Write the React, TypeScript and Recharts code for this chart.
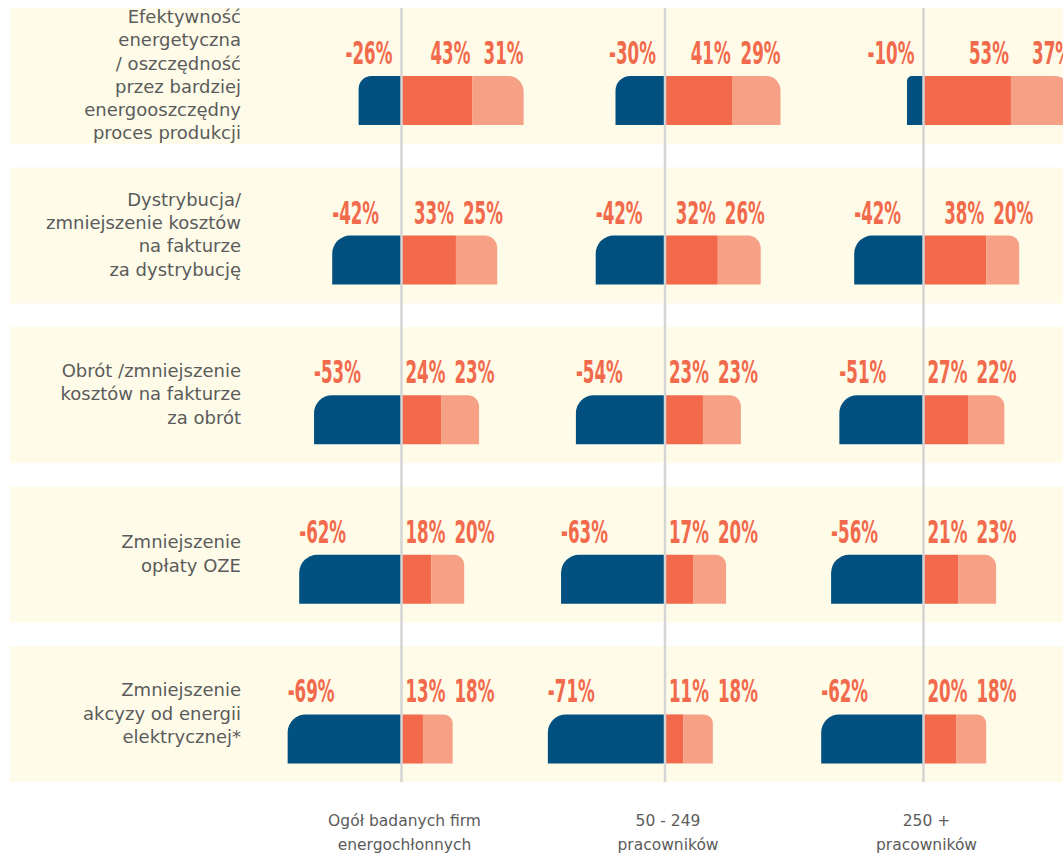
import {
  Bar,
  BarChart,
  LabelList,
  ReferenceArea,
  ReferenceLine,
  XAxis,
  YAxis,
} from 'recharts';

// row labels (left axis)
const categories = [
  'Efektywność\nenergetyczna\n/ oszczędność\nprzez bardziej\nenergooszczędny\nproces produkcji',
  'Dystrybucja/\nzmniejszenie kosztów\nna fakturze\nza dystrybucję',
  'Obrót /zmniejszenie\nkosztów na fakturze\nza obrót',
  'Zmniejszenie\nopłaty OZE',
  'Zmniejszenie\nakcyzy od energii\nelektrycznej*',
];

// panel labels (bottom)
const groups = [
  'Ogół badanych firm\nenergochłonnych',
  '50 - 249\npracowników',
  '250 +\npracowników',
];

// Ogół badanych firm energochłonnych
const allNegative = [-26, -42, -53, -62, -69];
const allPositive = [43, 33, 24, 18, 13];
const allPositiveLight = [31, 25, 23, 20, 18];

// 50 - 249 pracowników
const midNegative = [-30, -42, -54, -63, -71];
const midPositive = [41, 32, 23, 17, 11];
const midPositiveLight = [29, 26, 23, 20, 18];

// 250 + pracowników
const bigNegative = [-10, -42, -51, -56, -62];
const bigPositive = [53, 38, 27, 21, 20];
const bigPositiveLight = [37, 20, 22, 23, 18];

const panels = [
  { neg: allNegative, pos: allPositive, light: allPositiveLight },
  { neg: midNegative, pos: midPositive, light: midPositiveLight },
  { neg: bigNegative, pos: bigPositive, light: bigPositiveLight },
];

const rows = categories.map((name, i) => {
  const row: Record<string, string | number> = { name };
  panels.forEach((p, k) => {
    row[`n${k}`] = p.neg[i];
    row[`p${k}`] = p.pos[i];
    row[`l${k}`] = p.light[i];
  });
  return row;
});

const BLUE = '#02507f';
const ORANGE = '#f2694b';
const SALMON = '#f6a085';
const LABEL = '#f26a4c';
const BAND = '#fefbe9';
const GREY_TEXT = '#5b5b5b';

// layout
const CHART_W = 1100;
const CHART_H = 856;
const PLOT_LEFT = 250;
const PX_PER_PCT = 1.65;
const ZERO_X = [401.5, 665, 923.5];

const domainFor = (zero: number): [number, number] => {
  const min = -(zero - PLOT_LEFT) / PX_PER_PCT;
  return [min, min + (CHART_W - PLOT_LEFT) / PX_PER_PCT];
};

// condensed bold percentage labels (DejaVu Sans Condensed Bold, squeezed)
const LABEL_FONT = 32;
const LABEL_SQUEEZE = 0.58;
const glyph: Record<string, number> = { '-': 0.374, '%': 0.902 };
const textWidth = (s: string) =>
  [...s].reduce((w, c) => w + (glyph[c] ?? 0.626), 0) * LABEL_FONT * LABEL_SQUEEZE;

const Pct = ({ x, y, text }: { x: number; y: number; text: string }) => (
  <text
    transform={`translate(${x},${y}) scale(${LABEL_SQUEEZE},1)`}
    fontFamily="'DejaVu Sans Condensed', 'DejaVu Sans', sans-serif"
    fontWeight={700}
    fontSize={LABEL_FONT}
    fill={LABEL}
  >
    {text}
  </text>
);

const box = (props: any) => {
  const vb = props.viewBox ?? props;
  return { x: Number(vb.x), y: Number(vb.y), width: Number(vb.width) };
};

const negativeLabel = (k: number) => (props: any) => {
  const { x, y, width } = box(props);
  const zero = width < 0 ? x : x + width;
  const barLeft = width < 0 ? x + width : x;
  const text = `${panels[k].neg[props.index]}%`;
  const left = Math.min(barLeft, zero - 9 - textWidth(text));
  return <Pct x={left} y={y - 12} text={text} />;
};

const positiveRight = (zero: number, end: number, text: string) =>
  Math.max(end - 2, zero + 4 + textWidth(text));

const positiveLabel = (k: number) => (props: any) => {
  const { x, y, width } = box(props);
  const text = `${panels[k].pos[props.index]}%`;
  const right = positiveRight(x, x + width, text);
  return <Pct x={right - textWidth(text)} y={y - 12} text={text} />;
};

const lightLabel = (k: number) => (props: any) => {
  const { x, y, width } = box(props);
  const pos = panels[k].pos[props.index];
  const zero = x - pos * PX_PER_PCT;
  const prevRight = positiveRight(zero, x, `${pos}%`);
  const text = `${panels[k].light[props.index]}%`;
  const right = Math.max(x + width, prevRight + 9 + textWidth(text));
  return <Pct x={right - textWidth(text)} y={y - 12} text={text} />;
};

const roundedBar = (corner: 'left' | 'right' | 'none') => (props: any) => {
  const { x, y, width, height, fill } = props;
  const left = Math.min(x, x + width);
  const w = Math.abs(width);
  if (!w || !height) return <g />;
  const right = left + w;
  const bottom = y + height;
  const r = corner === 'none' ? 0 : Math.min(18, w * 0.3, height / 2);
  let d = `M${left},${y} H${right} V${bottom} H${left} Z`;
  if (corner === 'left') {
    d = `M${left},${bottom} V${y + r} A${r},${r} 0 0 1 ${left + r},${y} H${right} V${bottom} Z`;
  } else if (corner === 'right') {
    d = `M${left},${y} H${right - r} A${r},${r} 0 0 1 ${right},${y + r} V${bottom} H${left} Z`;
  }
  return <path d={d} fill={fill} />;
};

const RowTick = (props: any) => {
  const { x, y, payload } = props;
  const lines = String(payload.value).split('\n');
  const lh = 23.2;
  const top = y - 26 - ((lines.length - 1) * lh) / 2;
  return (
    <text textAnchor="end" fontFamily="'DejaVu Sans', sans-serif" fontSize={18} fill={GREY_TEXT}>
      {lines.map((l, i) => (
        <tspan key={i} x={x} y={top + i * lh} dy="0.35em">
          {l}
        </tspan>
      ))}
    </text>
  );
};

const groupTick = (label: string, k: number) => (props: any) => {
  const { x, y } = props;
  return (
    <text textAnchor="middle" fontFamily="'DejaVu Sans', sans-serif" fontSize={15.5} fill={GREY_TEXT}>
      {label.split('\n').map((l, i) => (
        <tspan key={i} x={x + 3} y={y - k + 7 + i * 24}>
          {l}
        </tspan>
      ))}
    </text>
  );
};

const bandShape = (props: any) => {
  const mid = Number(props.y) + Number(props.height || 0) / 2;
  return <rect x={10} y={mid - 93} width={CHART_W} height={136} fill={BAND} />;
};

const zeroLine = (props: any) => (
  <line x1={props.x1} x2={props.x1} y1={8} y2={782} stroke="#d5d5d5" strokeWidth={2.5} />
);

export default function App() {
  return (
    <div
      style={{
        position: 'absolute',
        left: 0,
        top: 0,
        width: 1063,
        height: CHART_H,
        overflow: 'hidden',
        background: '#fff',
      }}
    >
      <BarChart
        width={CHART_W}
        height={CHART_H}
        data={rows}
        layout="vertical"
        stackOffset="sign"
        barSize={49}
        margin={{ top: 21, right: 0, bottom: 34, left: 0 }}
      >
        {panels.map((_, k) => (
          <XAxis
            key={`x${k}`}
            xAxisId={k}
            type="number"
            domain={domainFor(ZERO_X[k])}
            allowDataOverflow
            ticks={[0]}
            interval={0}
            height={1}
            axisLine={false}
            tickLine={false}
            tickSize={0}
            tickMargin={0}
            tick={groupTick(groups[k], k)}
          />
        ))}
        {panels.map((_, k) => (
          <YAxis
            key={`y${k}`}
            yAxisId={k}
            type="category"
            dataKey="name"
            hide={k > 0}
            width={PLOT_LEFT}
            interval={0}
            axisLine={false}
            tickLine={false}
            tickSize={0}
            tickMargin={9}
            tick={RowTick}
          />
        ))}
        {categories.map((c) => (
          <ReferenceArea
            key={c}
            xAxisId={0}
            yAxisId={0}
            y1={c}
            y2={c}
            shape={bandShape}
          />
        ))}
        {panels.map((_, k) => [
          <Bar
            key={`n${k}`}
            dataKey={`n${k}`}
            xAxisId={k}
            yAxisId={k}
            stackId={`s${k}`}
            fill={BLUE}
            shape={roundedBar('left')}
            isAnimationActive={false}
          >
            <LabelList dataKey={`n${k}`} content={negativeLabel(k)} />
          </Bar>,
          <Bar
            key={`p${k}`}
            dataKey={`p${k}`}
            xAxisId={k}
            yAxisId={k}
            stackId={`s${k}`}
            fill={ORANGE}
            shape={roundedBar('none')}
            isAnimationActive={false}
          >
            <LabelList dataKey={`p${k}`} content={positiveLabel(k)} />
          </Bar>,
          <Bar
            key={`l${k}`}
            dataKey={`l${k}`}
            xAxisId={k}
            yAxisId={k}
            stackId={`s${k}`}
            fill={SALMON}
            shape={roundedBar('right')}
            isAnimationActive={false}
          >
            <LabelList dataKey={`l${k}`} content={lightLabel(k)} />
          </Bar>,
        ])}
        {panels.map((_, k) => (
          <ReferenceLine key={`z${k}`} x={0} xAxisId={k} yAxisId={k} shape={zeroLine} />
        ))}
      </BarChart>
    </div>
  );
}
